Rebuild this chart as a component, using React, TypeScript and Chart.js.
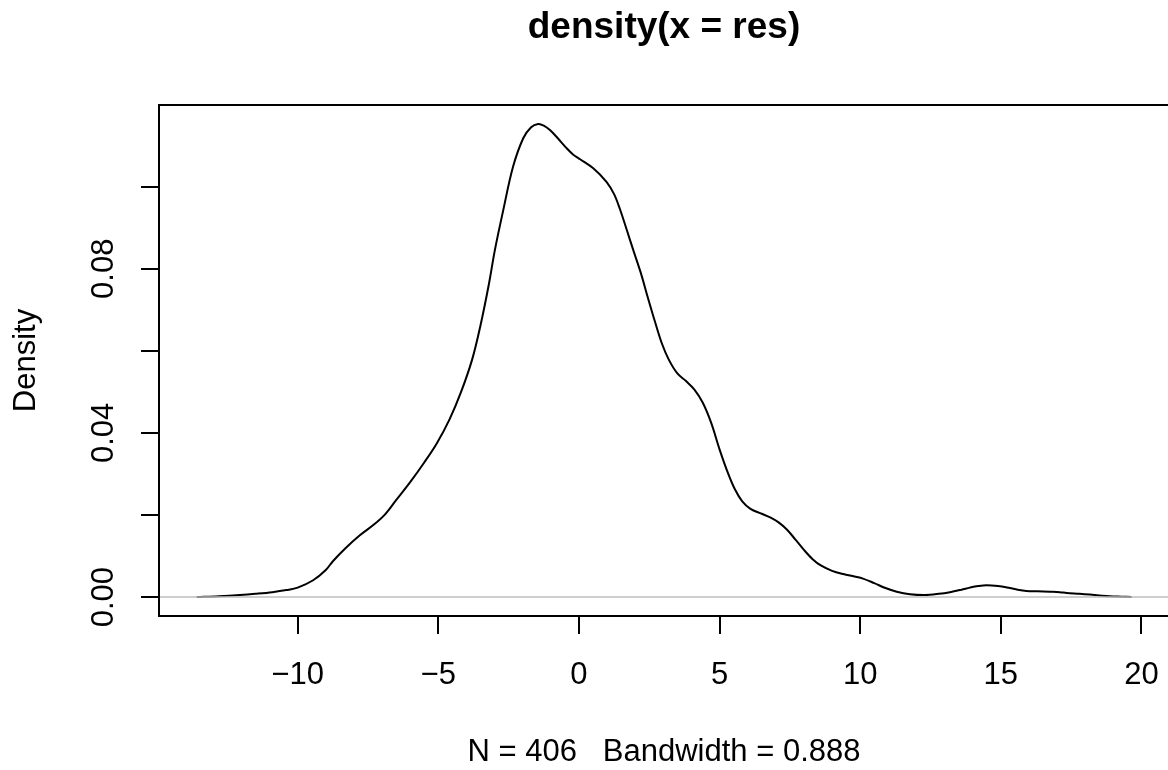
import React, { useEffect, useRef } from "react";
import { Chart, registerables } from "chart.js";

Chart.register(...registerables);

// Density estimate of res
const xValues: number[] = [
  -13.59, -12.8, -12.05, -11.5, -10.9, -10.4, -10.0, -9.45, -9.0, -8.74,
  -8.3, -7.8, -7.3, -6.9, -6.5, -6.0, -5.5, -5.05, -4.6, -4.2,
  -3.8, -3.5, -3.2, -2.99, -2.69, -2.34, -1.98, -1.7, -1.45, -1.25,
  -1.03, -0.75, -0.44, -0.2, 0.04, 0.51, 0.98, 1.25, 1.46, 1.7,
  1.93, 2.2, 2.45, 2.7, 2.95, 3.2, 3.5, 3.8, 4.1, 4.4,
  4.7, 5.0, 5.3, 5.55, 5.8, 6.1, 6.5, 6.8, 7.1, 7.4,
  7.7, 8.0, 8.3, 8.6, 9.0, 9.4, 9.8, 10.1, 10.5, 10.9,
  11.3, 11.77, 12.3, 12.8, 13.19, 13.6, 13.9, 14.2, 14.49, 14.9,
  15.32, 15.6, 15.91, 16.3, 16.74, 17.1, 17.34, 17.8, 18.17, 18.5,
  18.88, 19.3, 19.65,
];
const densityValues: number[] = [
  0.0, 0.0002, 0.0005, 0.0008, 0.0012, 0.0017, 0.0023, 0.0041, 0.0066, 0.0088,
  0.0119, 0.015, 0.0176, 0.0201, 0.0236, 0.028, 0.0328, 0.0375, 0.0433, 0.0498,
  0.0578, 0.0662, 0.0763, 0.0845, 0.0943, 0.1049, 0.1118, 0.1145, 0.1153, 0.1149,
  0.1138, 0.1118, 0.1094, 0.1078, 0.1067, 0.1045, 0.1012, 0.0982, 0.0945, 0.0895,
  0.0846, 0.079, 0.073, 0.0672, 0.0618, 0.0578, 0.0545, 0.0527, 0.0506, 0.0474,
  0.0425, 0.036, 0.0302, 0.0262, 0.0234, 0.0215, 0.0203, 0.0194, 0.0182, 0.0164,
  0.014, 0.0115, 0.0093, 0.0077, 0.0064, 0.0056, 0.005, 0.0045, 0.0034, 0.0022,
  0.0013, 0.0007, 0.0005, 0.0008, 0.0012, 0.0018, 0.0023, 0.0027, 0.0029, 0.0027,
  0.0022, 0.0018, 0.0015, 0.0014, 0.0013, 0.0012, 0.001, 0.0008, 0.0006, 0.0004,
  0.0002, 0.0001, 0.0,
];

const xTicks: number[] = [-10, -5, 0, 5, 10, 15, 20];
const xTickLabels: string[] = ["\u221210", "\u22125", "0", "5", "10", "15", "20"];
const yTicks: number[] = [0, 0.02, 0.04, 0.06, 0.08, 0.1];
const yTickLabels: string[] = ["0.00", "", "0.04", "", "0.08", ""];

const titleText = "density(x = res)";
const xLabelText = "N = 406   Bandwidth = 0.888";
const yLabelText = "Density";

const X_MIN = -14.93;
const X_MAX = 20.98;
const Y_MAX = 0.1153 * 1.04;
const Y_MIN = -0.1153 * 0.04;

const FONT = '"Liberation Sans", Arial, Helvetica, sans-serif';

const rDecor = {
  id: "rDecor",
  afterDatasetsDraw(chart: any) {
    const { ctx, chartArea } = chart;
    const y = chart.scales.y;
    const y0 = y.getPixelForValue(0);
    ctx.save();
    ctx.strokeStyle = "#bebebe";
    ctx.lineWidth = 1.5;
    ctx.beginPath();
    ctx.moveTo(chartArea.left, y0);
    ctx.lineTo(chartArea.right, y0);
    ctx.stroke();
    ctx.restore();
  },
  afterDraw(chart: any) {
    const { ctx, chartArea } = chart;
    const xs = chart.scales.x;
    const ys = chart.scales.y;
    ctx.save();
    ctx.strokeStyle = "#000";
    ctx.lineWidth = 2;
    ctx.strokeRect(chartArea.left, chartArea.top, chartArea.right - chartArea.left, chartArea.bottom - chartArea.top);

    ctx.fillStyle = "#000";
    ctx.font = `31px ${FONT}`;
    ctx.textAlign = "center";
    ctx.textBaseline = "alphabetic";
    xTicks.forEach((v, i) => {
      ctx.fillText(xTickLabels[i], xs.getPixelForValue(v), 684);
    });
    const midX = (chartArea.left + chartArea.right) / 2;
    ctx.fillText(xLabelText, midX, 761);
    yTicks.forEach((v, i) => {
      if (!yTickLabels[i]) return;
      ctx.save();
      ctx.translate(113, ys.getPixelForValue(v));
      ctx.rotate(-Math.PI / 2);
      ctx.fillText(yTickLabels[i], 0, 0);
      ctx.restore();
    });
    ctx.save();
    ctx.translate(35, (chartArea.top + chartArea.bottom) / 2);
    ctx.rotate(-Math.PI / 2);
    ctx.fillText(yLabelText, 0, 0);
    ctx.restore();
    ctx.font = `bold 37px ${FONT}`;
    ctx.fillText(titleText, midX, 38);
    ctx.restore();
  },
};

export default function App() {
  const ref = useRef<HTMLCanvasElement | null>(null);
  useEffect(() => {
    if (!ref.current) return;
    const chart = new Chart(ref.current, {
      type: "scatter",
      data: {
        datasets: [
          {
            data: xValues.map((x, i) => ({ x, y: densityValues[i] })),
            showLine: true,
            borderColor: "#000",
            borderWidth: 2,
            pointRadius: 0,
            fill: false,
            tension: 0.35,
          } as any,
        ],
      },
      options: {
        responsive: false,
        animation: false,
        devicePixelRatio: 1,
        layout: { padding: { top: 105, right: 11, left: 0, bottom: 0 } },
        plugins: {
          legend: { display: false },
          tooltip: { enabled: false },
          title: { display: false },
        },
        scales: {
          x: {
            type: "linear",
            min: X_MIN,
            max: X_MAX,
            afterBuildTicks: (s: any) => {
              s.ticks = xTicks.map((v) => ({ value: v }));
            },
            afterFit: (s: any) => {
              s.height = 154;
            },
            ticks: { display: false },
            grid: { drawOnChartArea: false, drawTicks: true, tickLength: 18, color: "#000", lineWidth: 2 },
            border: { display: true, color: "#000", width: 2 },
          },
          y: {
            type: "linear",
            min: Y_MIN,
            max: Y_MAX,
            afterBuildTicks: (s: any) => {
              s.ticks = yTicks.map((v) => ({ value: v }));
            },
            afterFit: (s: any) => {
              s.width = 159;
            },
            ticks: { display: false },
            grid: { drawOnChartArea: false, drawTicks: true, tickLength: 18, color: "#000", lineWidth: 2 },
            border: { display: true, color: "#000", width: 2 },
          },
        },
      } as any,
      plugins: [rDecor],
    });
    return () => chart.destroy();
  }, []);
  return (
    <div style={{ position: "absolute", left: 0, top: 0, width: 1168, height: 770, overflow: "hidden", background: "#fff" }}>
      <canvas ref={ref} width={1180} height={770} style={{ display: "block", width: 1180, height: 770 }} />
    </div>
  );
}
